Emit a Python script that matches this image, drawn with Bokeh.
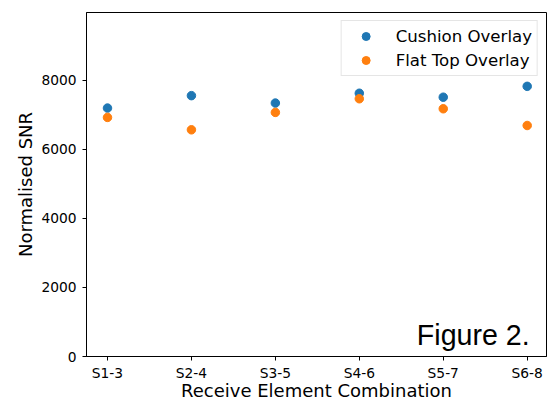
from bokeh.plotting import figure
from bokeh.models import Range1d, FixedTicker, Label
from bokeh.embed import file_html
from bokeh.resources import INLINE

categories = ["S1-3", "S2-4", "S3-5", "S4-6", "S5-7", "S6-8"]
cushion = [7200, 7560, 7345, 7630, 7515, 7830]
flat_top = [6930, 6570, 7075, 7470, 7180, 6695]
y_ticks = [0, 2000, 4000, 6000, 8000]

x = list(range(len(categories)))

p = figure(frame_width=460, frame_height=344, output_backend="svg", toolbar_location=None,
           x_range=Range1d(-0.25, 5.23), y_range=Range1d(0, 9970),
           min_border_left=86, min_border_right=1, min_border_top=12, min_border_bottom=43)

p.scatter(x, cushion, size=8.5, fill_color="#1f77b4", line_color="#1f77b4",
          legend_label="Cushion Overlay")
p.scatter(x, flat_top, size=8.5, fill_color="#ff7f0e", line_color="#ff7f0e",
          legend_label="Flat Top Overlay")

p.xgrid.visible = False
p.ygrid.visible = False
p.outline_line_color = "black"
p.outline_line_width = 1
p.outline_line_alpha = 1

p.xaxis.ticker = FixedTicker(ticks=x)
p.xaxis.major_label_overrides = {i: c for i, c in enumerate(categories)}
p.yaxis.ticker = FixedTicker(ticks=y_ticks)

for ax in (p.xaxis, p.yaxis):
    ax.axis_line_color = "black"
    ax.major_tick_line_color = "black"
    ax.major_tick_out = 4
    ax.major_tick_in = 0
    ax.minor_tick_line_color = None
    ax.major_label_text_font = "DejaVu Sans"
    ax.major_label_text_font_size = "13.8px"
    ax.major_label_text_color = "black"
    ax.axis_label_text_font = "DejaVu Sans"
    ax.axis_label_text_font_size = "18px"
    ax.axis_label_text_font_style = "normal"
    ax.axis_label_text_color = "black"

p.xaxis.axis_label = "Receive Element Combination"
p.yaxis.axis_label = "Normalised SNR"
p.xaxis.major_label_standoff = 4
p.xaxis.axis_label_standoff = -4
p.yaxis.major_label_standoff = 6
p.yaxis.axis_label_standoff = 2

lg = p.legend[0]
lg.location = "top_right"
lg.margin = 8
lg.padding = 5
lg.spacing = 4
lg.label_height = 20
lg.glyph_height = 20
lg.glyph_width = 38
lg.label_standoff = 11
lg.label_text_font = "DejaVu Sans"
lg.label_text_font_size = "16.6px"
lg.label_text_color = "black"
lg.border_line_color = "#cccccc"
lg.border_line_width = 1
lg.background_fill_alpha = 0.8

fig_label = Label(x=5.03, y=620, text="Figure 2.", text_align="right",
                  text_baseline="alphabetic", text_font="Liberation Sans",
                  text_font_size="28.6px", text_color="black")
p.add_layout(fig_label)

html = file_html(p, INLINE)
html = html.replace("<head>", "<head><style>html,body{margin:0;overflow:hidden;}</style>", 1)
open("out.html", "w").write(html)
